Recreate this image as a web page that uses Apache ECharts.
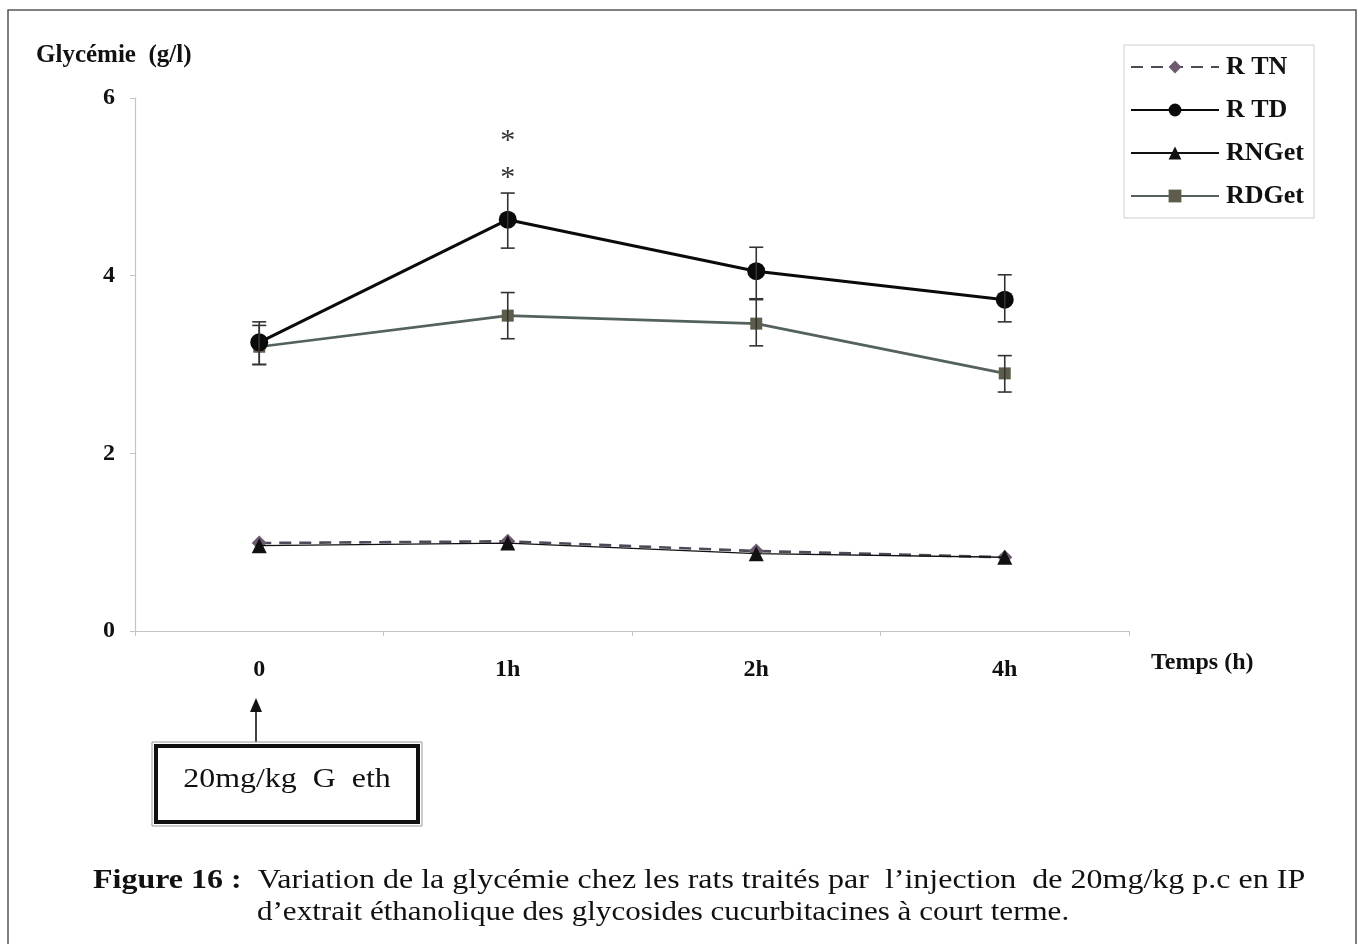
<!DOCTYPE html>
<html>
<head>
<meta charset="utf-8">
<script src="https://cdn.jsdelivr.net/npm/echarts@6/dist/echarts.min.js"></script>
<style>
html,body{margin:0;padding:0;background:#fff;}
#c{width:1362px;height:944px;}
</style>
</head>
<body>
<div id="c"></div>
<script>
// ---- data ----
var categories = ['0', '1h', '2h', '4h'];
var yTicks = [0, 2, 4, 6];
var rTN   = [0.99, 1.01, 0.90, 0.83];
var rTD   = [3.25, 4.63, 4.05, 3.73];
var rNGet = [0.96, 0.99, 0.87, 0.83];
var rDGet = [3.20, 3.55, 3.46, 2.90];
var rTDLow   = [3.00, 4.31, 3.74, 3.48];
var rTDHigh  = [3.48, 4.93, 4.32, 4.01];
var rDGetLow  = [3.00, 3.29, 3.21, 2.69];
var rDGetHigh = [3.44, 3.81, 3.73, 3.10];
var sigStars = [['1h', 5.52], ['1h', 5.10]];

var serif = '"Liberation Serif", "Times New Roman", serif';

function errData(low, high) {
  return categories.map(function (c, i) { return [i, low[i], high[i]]; });
}
function errRender(params, api) {
  var x = api.value(0);
  var lo = api.coord([x, api.value(1)]);
  var hi = api.coord([x, api.value(2)]);
  var w = 7;
  var st = {stroke: '#333', lineWidth: 1.6};
  return {type: 'group', children: [
    {type: 'line', shape: {x1: lo[0], y1: lo[1], x2: hi[0], y2: hi[1]}, style: st},
    {type: 'line', shape: {x1: lo[0]-w, y1: lo[1], x2: lo[0]+w, y2: lo[1]}, style: st},
    {type: 'line', shape: {x1: hi[0]-w, y1: hi[1], x2: hi[0]+w, y2: hi[1]}, style: st}
  ]};
}

var chart = echarts.init(document.getElementById('c'));
var option = {
  backgroundColor: '#fff',
  animation: false,
  grid: {left: 135, right: 233, top: 98, bottom: 313, containLabel: false},
  legend: {
    orient: 'vertical', left: 1124, top: 45,
    padding: [9, 10, 9, 6],
    borderColor: '#cfcfcf', borderWidth: 1,
    itemWidth: 88, itemHeight: 16, itemGap: 17,
    textStyle: {fontFamily: serif, fontWeight: 'bold', fontSize: 26, color: '#111', lineHeight: 26, padding: [0,0,0,2]},
    data: ['R TN', 'R TD', 'RNGet', 'RDGet']
  },
  xAxis: {
    type: 'category', data: categories, boundaryGap: true,
    name: 'Temps (h)', nameLocation: 'end', nameGap: 22,
    nameTextStyle: {fontFamily: serif, fontWeight: 'bold', fontSize: 24, color: '#111', verticalAlign: 'top', padding: [20, 0, 0, 0]},
    axisLine: {lineStyle: {color: '#c4c4c4', width: 1.2}},
    axisTick: {show: true, length: 5, lineStyle: {color: '#c4c4c4'}},
    axisLabel: {fontFamily: serif, fontWeight: 'bold', fontSize: 24, color: '#111', margin: 27}
  },
  yAxis: {
    type: 'value', min: 0, max: 6, interval: 2,
    name: 'Glycémie  (g/l)', nameLocation: 'end', nameGap: 30,
    nameTextStyle: {fontFamily: serif, fontWeight: 'bold', fontSize: 25, color: '#111', align: 'left', padding: [0, 0, 0, -99]},
    axisLine: {show: true, lineStyle: {color: '#c4c4c4', width: 1.2}},
    axisTick: {show: true, length: 5, lineStyle: {color: '#c4c4c4'}},
    splitLine: {show: false},
    axisLabel: {fontFamily: serif, fontWeight: 'bold', fontSize: 24, color: '#111', margin: 20,
      formatter: function (v) { return yTicks.indexOf(v) >= 0 ? String(v) : ''; }}
  },
  series: [
    {name: 'R TN', type: 'line', data: rTN, symbol: 'diamond', symbolSize: 15,
     lineStyle: {color: '#4f4a58', width: 2.6, type: [12, 8]},
     itemStyle: {color: '#6d5a70'}, z: 2},
    {name: 'RNGet', type: 'line', data: rNGet, symbol: 'triangle', symbolSize: 15,
     lineStyle: {color: '#111', width: 1.3},
     itemStyle: {color: '#111'}, z: 3},
    {name: 'RDGet', type: 'line', data: rDGet, symbol: 'rect', symbolSize: 12,
     lineStyle: {color: '#54625e', width: 2.6},
     itemStyle: {color: '#5e5d4c'}, z: 4},
    {name: 'R TD', type: 'line', data: rTD, symbol: 'circle', symbolSize: 18,
     lineStyle: {color: '#0a0a0a', width: 3},
     itemStyle: {color: '#0a0a0a'}, z: 5},
    {name: 'errTD', type: 'custom', renderItem: errRender, data: errData(rTDLow, rTDHigh), z: 6, silent: true},
    {name: 'errDG', type: 'custom', renderItem: errRender, data: errData(rDGetLow, rDGetHigh), z: 6, silent: true},
    {name: 'stars', type: 'custom', silent: true, z: 7,
     data: sigStars,
     renderItem: function (params, api) {
       var p = api.coord([api.value(0), api.value(1)]);
       return {type: 'text', x: p[0], y: p[1],
         style: {text: '*', fontFamily: serif, fontSize: 30, fill: '#333', align: 'center', verticalAlign: 'middle'}};
     },
     encode: {x: 0, y: 1}}
  ],
  graphic: [
    {type: 'rect', shape: {x: 8, y: 10, width: 1348, height: 960}, style: {fill: 'none', stroke: '#555', lineWidth: 1.5}, z: -1},
    // arrow
    {type: 'line', shape: {x1: 256, y1: 744, x2: 256, y2: 708}, style: {stroke: '#111', lineWidth: 1.6}},
    {type: 'polygon', shape: {points: [[256, 698], [250, 712], [262, 712]]}, style: {fill: '#111'}},
    // box
    {type: 'rect', shape: {x: 152, y: 742, width: 270, height: 84}, style: {fill: '#fff', stroke: '#999', lineWidth: 1}},
    {type: 'rect', shape: {x: 156, y: 746, width: 262, height: 76}, style: {fill: '#fff', stroke: '#111', lineWidth: 4}},
    {type: 'text', x: 287, y: 780, scaleX: 1.14, style: {text: '20mg/kg  G  eth', fontFamily: serif, fontSize: 28, fill: '#111', align: 'center', verticalAlign: 'middle'}},
    // caption
    {type: 'text', x: 93, y: 881, scaleX: 1.185, style: {
      rich: {b: {fontFamily: serif, fontWeight: 'bold', fontSize: 27, fill: '#111'},
             n: {fontFamily: serif, fontSize: 27, fill: '#111'}},
      text: '{b|Figure 16 :}{n|  Variation de la glycémie chez les rats traités par  l’injection  de 20mg/kg p.c en IP}',
      verticalAlign: 'middle'}},
    {type: 'text', x: 257, y: 913, scaleX: 1.15, style: {text: 'd’extrait éthanolique des glycosides cucurbitacines à court terme.',
      fontFamily: serif, fontSize: 27, fill: '#111', verticalAlign: 'middle'}}
  ]
};
chart.setOption(option);
</script>
</body>
</html>
